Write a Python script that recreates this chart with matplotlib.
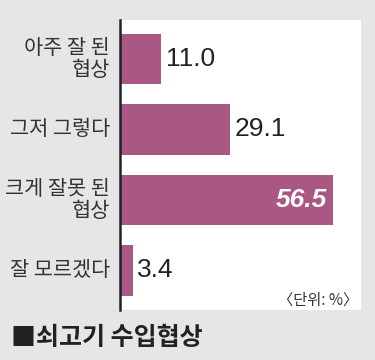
import matplotlib.pyplot as plt

plt.rcParams['font.family'] = ['Noto Sans CJK KR', 'DejaVu Sans']

# === Data ===
categories = ["아주 잘 된\n협상", "그저 그렇다", "크게 잘못 된\n협상", "잘 모르겠다"]
values = [11.0, 29.1, 56.5, 3.4]
value_labels = ["11.0", "29.1", "56.5", "3.4"]
title = "■쇠고기 수입협상"
unit = "〈단위: %〉"

BAR_COLOR = "#a85882"
BG = "#e6e6e8"

fig = plt.figure(figsize=(3.75, 3.6), dpi=100, facecolor=BG)
ax = fig.add_axes([0.32, 0.139, 0.643, 0.805])
ax.set_facecolor("white")

ypos = list(range(len(values)))
ax.barh(ypos, values, height=0.72, color=BAR_COLOR)
ax.set_xlim(0, 64)
ax.set_ylim(3.56, -0.55)

# value labels
num_font = ['Liberation Sans Narrow', 'Liberation Sans', 'DejaVu Sans']
for i, (v, lab) in enumerate(zip(values, value_labels)):
    if v > 40:
        ax.text(v - 1.6, i, lab, ha="right", va="center", color="white",
                fontsize=19, fontweight="bold", fontstyle="italic", family=num_font)
    else:
        ax.text(v + 1.2, i, lab, ha="left", va="center", color="#222222",
                fontsize=19, family=num_font)

# category labels
for i, c in enumerate(categories):
    ax.text(-2.6, i, c, ha="right", va="center", fontsize=15,
            color="#333333", linespacing=0.98)

ax.text(63.3, 3.42, unit, ha="right", va="center", fontsize=11, color="#333333")

for s in ["top", "right", "bottom"]:
    ax.spines[s].set_visible(False)
ax.spines["left"].set_color("#222222")
ax.spines["left"].set_linewidth(1.8)
ax.set_xticks([])
ax.set_yticks([])

fig.text(0.03, 0.062, title, ha="left", va="center", fontsize=18,
         fontweight="bold", color="#222222")

fig.savefig("out.png", dpi=100, facecolor=BG)
